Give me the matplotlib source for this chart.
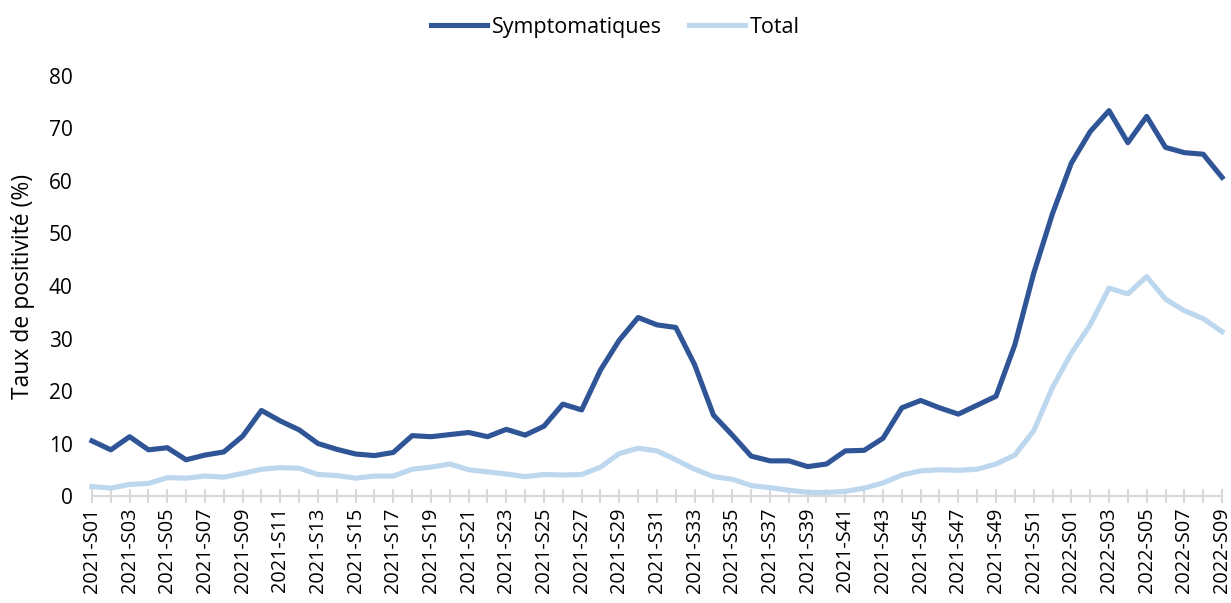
import matplotlib.pyplot as plt

plt.rcParams['font.family'] = ['Open Sans', 'DejaVu Sans']

# Weekly labels: 2021-S01 .. 2021-S52, then 2022-S01 .. 2022-S09
weeks = [f"2021-S{w:02d}" for w in range(1, 53)] + [f"2022-S{w:02d}" for w in range(1, 10)]

symptomatiques = [
    10.5, 8.8, 11.3, 8.8, 9.2, 6.9, 7.8, 8.4, 11.4, 16.3,
    14.3, 12.6, 10.0, 8.9, 8.0, 7.7, 8.3, 11.5, 11.3, 11.7,
    12.1, 11.3, 12.7, 11.6, 13.3, 17.5, 16.4, 24.0, 29.7, 34.0,
    32.6, 32.1, 25.0, 15.4, 11.6, 7.6, 6.7, 6.7, 5.6, 6.1,
    8.6, 8.7, 11.0, 16.8, 18.2, 16.8, 15.6, 17.3, 19.0, 28.8,
    42.4, 53.8, 63.4, 69.4, 73.4, 67.3, 72.3, 66.4, 65.4, 65.1,
    60.7,
]

total = [
    1.8, 1.5, 2.2, 2.4, 3.5, 3.4, 3.8, 3.6, 4.3, 5.1,
    5.4, 5.3, 4.1, 3.9, 3.4, 3.8, 3.8, 5.1, 5.5, 6.1,
    5.0, 4.6, 4.2, 3.7, 4.1, 4.0, 4.1, 5.5, 8.1, 9.1,
    8.6, 6.9, 5.1, 3.7, 3.2, 2.0, 1.6, 1.1, 0.7, 0.65,
    0.9, 1.5, 2.5, 4.0, 4.8, 5.0, 4.9, 5.1, 6.1, 7.8,
    12.4, 20.7, 27.2, 32.6, 39.6, 38.5, 41.8, 37.5, 35.3, 33.8,
    31.3,
]

dark_blue = '#2F5597'
light_blue = '#BDD7EE'
axis_grey = '#D9D9D9'

fig = plt.figure(figsize=(12.31, 6.03), dpi=100)
ax = fig.add_axes([0.0747, 0.1774, 0.918, 0.6966])

x = list(range(len(weeks)))
ax.plot(x, symptomatiques, color=dark_blue, lw=3.7, label='Symptomatiques',
        solid_joinstyle='round', clip_on=False, zorder=3)
ax.plot(x, total, color=light_blue, lw=3.7, label='Total',
        solid_joinstyle='round', clip_on=False, zorder=2)

ax.set_xlim(0, len(weeks) - 1)
ax.set_ylim(0, 80)
ax.set_yticks(range(0, 81, 10))

ax.set_xticks(x)
ax.set_xticklabels([w if i % 2 == 0 else '' for i, w in enumerate(weeks)],
                   rotation=90, fontsize=14.3)
ax.tick_params(axis='x', direction='inout', length=10, width=1.5,
               color=axis_grey, pad=3)
ax.tick_params(axis='y', length=0, labelsize=15, pad=14)

for side in ['left', 'right', 'top']:
    ax.spines[side].set_visible(False)
ax.spines['bottom'].set_color(axis_grey)
ax.spines['bottom'].set_linewidth(1.5)

ax.set_ylabel('Taux de positivité (%)', fontsize=16.5, labelpad=10)

fig.legend(loc='center', bbox_to_anchor=(0.5, 0.955), ncol=2, frameon=False,
           fontsize=15.5, handlelength=2.6, columnspacing=1.3, handletextpad=0.2)

fig.savefig('out.png', dpi=100)
